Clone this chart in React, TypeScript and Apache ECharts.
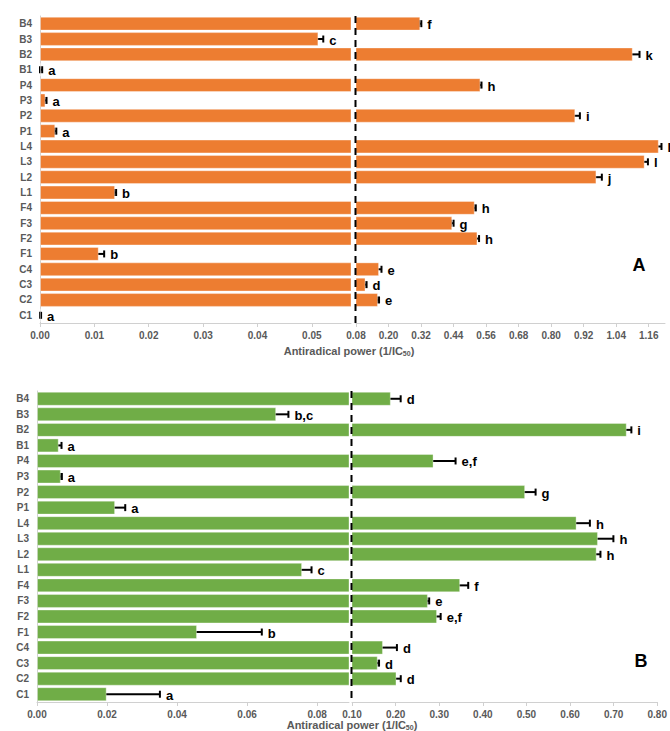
import { useEffect, useRef } from 'react';
import * as echarts from 'echarts';

// Samples, bottom to top
const categories = ['C1', 'C2', 'C3', 'C4', 'F1', 'F2', 'F3', 'F4', 'L1', 'L2', 'L3', 'L4', 'P1', 'P2', 'P3', 'P4', 'B1', 'B2', 'B3', 'B4'];

// Panel A: antiradical power (1/IC50), standard deviation and significance letters
const powerA = [0.0001, 0.161, 0.115, 0.165, 0.0108, 0.528, 0.435, 0.518, 0.0138, 0.967, 1.145, 1.197, 0.0028, 0.889, 0.001, 0.539, 0.0002, 1.101, 0.0512, 0.317];
const errorA = [0.0001, 0.004, 0.004, 0.009, 0.001, 0.006, 0.005, 0.004, 0.0002, 0.02, 0.012, 0.01, 0.0002, 0.017, 0.0002, 0.004, 0.0002, 0.025, 0.0009, 0.004];
const lettersA = ['a', 'e', 'd', 'e', 'b', 'h', 'g', 'h', 'b', 'j', 'l', 'l', 'a', 'i', 'a', 'h', 'a', 'k', 'c', 'f'];

// Panel B
const powerB = [0.0199, 0.202, 0.159, 0.171, 0.0457, 0.295, 0.274, 0.348, 0.0757, 0.661, 0.664, 0.615, 0.0223, 0.497, 0.0068, 0.287, 0.0062, 0.73, 0.0683, 0.189];
const errorB = [0.0152, 0.0098, 0.003, 0.032, 0.0185, 0.0083, 0.003, 0.0185, 0.0027, 0.0087, 0.0354, 0.0305, 0.0029, 0.024, 0.0003, 0.0505, 0.0008, 0.0106, 0.0035, 0.0226];
const lettersB = ['a', 'd', 'd', 'd', 'b', 'e,f', 'e', 'f', 'c', 'h', 'h', 'h', 'a', 'g', 'a', 'e,f', 'a', 'i', 'b,c', 'd'];

// Broken axis ranges
const leftMaxA = 0.0572;
const breakA = 0.08;
const rightMaxA = 1.22;
const leftMaxB = 0.0891;
const breakB = 0.1;
const rightMaxB = 0.8;

const ticksRightA = [0.08, 0.2, 0.32, 0.44, 0.56, 0.68, 0.8, 0.92, 1.04, 1.16];
const ticksRightB = [0.1, 0.2, 0.3, 0.4, 0.5, 0.6, 0.7, 0.8];

const FONT = '"Liberation Sans", Arial, sans-serif';
const GREY = '#595959';
const AXIS_GREY = '#d0d0d0';

const grids = [
  { left: 40, width: 311, top: 16, height: 307 },
  { left: 356, width: 309, top: 16, height: 307 },
  { left: 37, width: 312, top: 391, height: 311 },
  { left: 352, width: 310, top: 391, height: 311 },
];

function xAxis(gridIndex: number, min: number, max: number, opts: any) {
  return {
    type: 'value',
    gridIndex,
    min,
    max,
    splitLine: { show: false },
    axisLine: { show: true, lineStyle: { color: AXIS_GREY, width: 1 } },
    axisTick: { show: true, length: 4, lineStyle: { color: AXIS_GREY }, ...(opts.tick || {}) },
    axisLabel: {
      color: GREY,
      fontSize: 10,
      fontWeight: 'bold',
      fontFamily: FONT,
      margin: 7,
      formatter: (v: number) => v.toFixed(2),
      ...(opts.label || {}),
    },
    ...(opts.axis || {}),
  };
}

function yAxis(gridIndex: number, visible: boolean) {
  return {
    type: 'category',
    gridIndex,
    data: categories,
    show: visible,
    axisLine: { show: true, lineStyle: { color: AXIS_GREY } },
    axisTick: { show: false },
    axisLabel: { color: GREY, fontSize: 10, fontWeight: 'bold', fontFamily: FONT, margin: 8 },
  };
}

function barSeries(idx: number, values: number[], color: string, from: number) {
  return {
    type: 'bar',
    xAxisIndex: idx,
    yAxisIndex: idx,
    clip: true,
    barCategoryGap: '10%',
    data: values.map((v) => (v >= from ? v : '-')),
    itemStyle: { color, borderColor: 'rgba(255,255,255,0.35)', borderWidth: 1 },
    silent: true,
  };
}

function errorSeries(idx: number, values: number[], errors: number[], letters: string[], lo: number, hi: number) {
  return {
    type: 'custom',
    xAxisIndex: idx,
    yAxisIndex: idx,
    clip: false,
    silent: true,
    encode: { x: 0, y: 1 },
    data: values.map((v, i) => [v, i, errors[i]]),
    renderItem: (params: any, api: any) => {
      const v = api.value(0);
      const i = api.value(1);
      const e = api.value(2);
      if (v < lo || v > hi) return null;
      const a = api.coord([v - e, i]);
      const b = api.coord([v + e, i]);
      const y = a[1];
      const cap = 3.5;
      const stroke = { stroke: '#000', lineWidth: 2 };
      return {
        type: 'group',
        children: [
          { type: 'line', shape: { x1: a[0], y1: y, x2: b[0], y2: y }, style: stroke },
          { type: 'line', shape: { x1: a[0], y1: y - cap, x2: a[0], y2: y + cap }, style: stroke },
          { type: 'line', shape: { x1: b[0], y1: y - cap, x2: b[0], y2: y + cap }, style: stroke },
          {
            type: 'text',
            x: b[0] + 6,
            y: y + 1,
            style: {
              text: letters[params.dataIndex],
              fill: '#000',
              font: `bold 13px ${FONT}`,
              align: 'left',
              verticalAlign: 'middle',
            },
          },
        ],
      };
    },
  };
}

export default function App() {
  const ref = useRef<HTMLDivElement>(null);

  useEffect(() => {
    if (!ref.current) return;
    const chart = echarts.init(ref.current, undefined, { renderer: 'svg' });
    const orange = '#ED7D31';
    const green = '#70AD47';

    chart.setOption({
      animation: false,
      backgroundColor: '#fff',
      grid: grids,
      xAxis: [
        xAxis(0, 0, leftMaxA, { axis: { interval: 0.01 }, label: { showMaxLabel: false }, tick: {} }),
        xAxis(1, breakA, rightMaxA, {
          label: { customValues: ticksRightA },
          tick: { customValues: ticksRightA },
        }),
        xAxis(2, 0, leftMaxB, { axis: { interval: 0.02 }, label: { showMaxLabel: false }, tick: {} }),
        xAxis(3, breakB, rightMaxB, {
          label: { customValues: ticksRightB },
          tick: { customValues: ticksRightB },
        }),
      ],
      yAxis: [yAxis(0, true), yAxis(1, false), yAxis(2, true), yAxis(3, false)],
      series: [
        barSeries(0, powerA, orange, -Infinity),
        barSeries(1, powerA, orange, breakA),
        barSeries(2, powerB, green, -Infinity),
        barSeries(3, powerB, green, breakB),
        errorSeries(0, powerA, errorA, lettersA, 0, leftMaxA),
        errorSeries(1, powerA, errorA, lettersA, breakA, Infinity),
        errorSeries(2, powerB, errorB, lettersB, 0, leftMaxB),
        errorSeries(3, powerB, errorB, lettersB, breakB, Infinity),
      ],
    });

    // Dashed break lines at the start of each right-hand axis
    const xBreakA = chart.convertToPixel({ xAxisIndex: 1 }, breakA) as number;
    const xBreakB = chart.convertToPixel({ xAxisIndex: 3 }, breakB) as number;
    const dashed = { stroke: '#000', lineWidth: 2, lineDash: [7, 5] };
    const titleStyle = (x: number, y: number) => ({
      type: 'text',
      x,
      y,
      style: {
        text: 'Antiradical power (1/IC{s|50})',
        fill: GREY,
        font: `bold 11px ${FONT}`,
        align: 'center',
        verticalAlign: 'middle',
        rich: { s: { fontSize: 7, fontWeight: 'bold', fill: GREY, fontFamily: FONT, verticalAlign: 'bottom', padding: [5, 0, 0, 0] } },
      },
    });

    chart.setOption({
      graphic: [
        {
          type: 'line',
          shape: { x1: xBreakA - 0.5, y1: grids[0].top, x2: xBreakA - 0.5, y2: grids[0].top + grids[0].height },
          style: dashed,
          z: 10,
        },
        {
          type: 'line',
          shape: { x1: xBreakB - 0.5, y1: grids[2].top, x2: xBreakB - 0.5, y2: grids[2].top + grids[2].height },
          style: dashed,
          z: 10,
        },
        titleStyle(349, 351),
        titleStyle(352, 725),
        {
          type: 'text',
          x: 639,
          y: 265,
          style: { text: 'A', fill: '#000', font: `bold 18px ${FONT}`, align: 'center', verticalAlign: 'middle' },
        },
        {
          type: 'text',
          x: 641,
          y: 661,
          style: { text: 'B', fill: '#000', font: `bold 18px ${FONT}`, align: 'center', verticalAlign: 'middle' },
        },
      ],
    });

    return () => chart.dispose();
  }, []);

  return <div ref={ref} style={{ position: 'absolute', left: 0, top: 0, width: 670, height: 731 }} />;
}
